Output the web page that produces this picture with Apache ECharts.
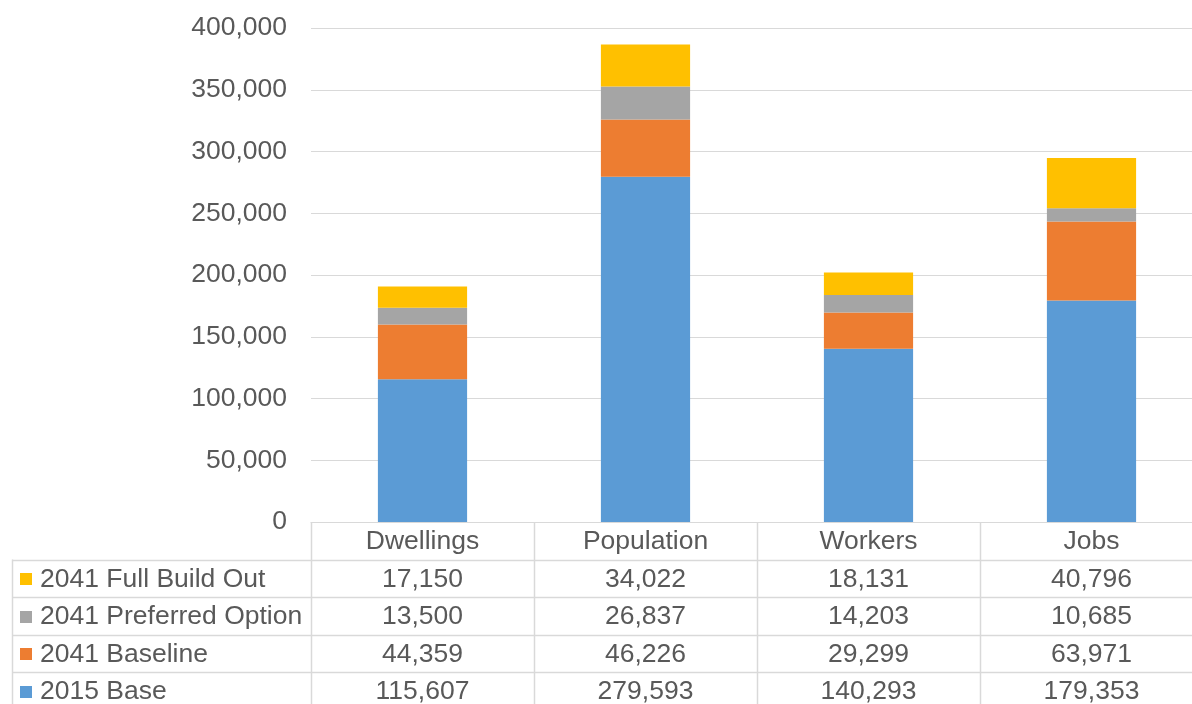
<!DOCTYPE html>
<html>
<head>
<meta charset="utf-8">
<script src="https://cdn.jsdelivr.net/npm/echarts@6/dist/echarts.min.js"></script>
<style>html,body{margin:0;padding:0;background:#fff;overflow:hidden;width:1192px;height:704px}#c{width:1203px;height:704px}</style>
</head>
<body>
<div id="c"></div>
<script>
const categories = ['Dwellings', 'Population', 'Workers', 'Jobs'];
const seriesNames = ['2041 Full Build Out', '2041 Preferred Option', '2041 Baseline', '2015 Base'];
const fullBuildOut = [17150, 34022, 18131, 40796];
const preferredOption = [13500, 26837, 14203, 10685];
const baseline2041 = [44359, 46226, 29299, 63971];
const base2015 = [115607, 279593, 140293, 179353];
const seriesColors = ['#FFC000', '#A5A5A5', '#ED7D31', '#5B9BD5'];

const tableRows = [fullBuildOut, preferredOption, baseline2041, base2015];
const FONT = '"Liberation Sans", Arial, sans-serif';
const TXT = '#595959';
const LINE = '#D9D9D9';
const FS = 26.5;

const chart = echarts.init(document.getElementById('c'), null, {renderer: 'canvas'});

// bottom stack first
const stackOrder = [3, 2, 1, 0];
const series = stackOrder.map(i => ({
  name: seriesNames[i],
  type: 'bar',
  stack: 'total',
  data: tableRows[i],
  barWidth: '40%',
  itemStyle: {color: seriesColors[i]},
  emphasis: {disabled: true}
}));

chart.setOption({
  animation: false,
  textStyle: {fontFamily: FONT},
  grid: {left: 311, top: 28, bottom: 182, right: 0, containLabel: false},
  xAxis: {
    type: 'category',
    data: categories,
    axisLine: {show: true, lineStyle: {color: LINE, width: 1}},
    axisTick: {show: false},
    axisLabel: {show: false}
  },
  yAxis: {
    type: 'value',
    min: 0, max: 400000, interval: 50000,
    axisLine: {show: false},
    axisTick: {show: false},
    splitLine: {lineStyle: {color: LINE, width: 1}},
    axisLabel: {
      color: TXT, fontSize: FS, fontFamily: FONT, margin: 24,
      formatter: v => v.toLocaleString('en-US')
    }
  },
  series: series
});

// Build data table under the axis from the same arrays
const zeroY = chart.convertToPixel({yAxisIndex: 0}, 0);
const centers = categories.map(c => chart.convertToPixel({xAxisIndex: 0}, c));
const colW = centers[1] - centers[0];
const rowH = 37.5;
const leftX = 12;
const rightX = 1203;
const graphics = [];
const lineStyle = {stroke: LINE, lineWidth: 1.5};

// header text
categories.forEach((c, j) => {
  graphics.push({type: 'text', x: centers[j], y: zeroY + rowH / 2 + 1,
    style: {text: c, fill: TXT, font: FS + 'px ' + FONT, textAlign: 'center', textVerticalAlign: 'middle'}});
});
// vertical lines at column boundaries
for (let j = 0; j < categories.length; j++) {
  const x = Math.round(centers[j] - colW / 2) + 0.5;
  graphics.push({type: 'line', shape: {x1: x, y1: zeroY, x2: x, y2: 704}, style: lineStyle});
}
// left border of label column
graphics.push({type: 'line', shape: {x1: leftX + 0.5, y1: zeroY + rowH, x2: leftX + 0.5, y2: 704}, style: lineStyle});
// rows
tableRows.forEach((row, i) => {
  const top = zeroY + rowH * (i + 1);
  const yl = Math.round(top) + 0.5;
  graphics.push({type: 'line', shape: {x1: leftX, y1: yl, x2: rightX, y2: yl}, style: lineStyle});
  const cy = top + rowH / 2 + 1;
  graphics.push({type: 'rect', shape: {x: 20, y: Math.round(cy - 6), width: 12, height: 12}, style: {fill: seriesColors[i]}});
  graphics.push({type: 'text', x: 40, y: cy,
    style: {text: seriesNames[i], fill: TXT, font: FS + 'px ' + FONT, textAlign: 'left', textVerticalAlign: 'middle'}});
  row.forEach((v, j) => {
    graphics.push({type: 'text', x: centers[j], y: cy,
      style: {text: v.toLocaleString('en-US'), fill: TXT, font: FS + 'px ' + FONT, textAlign: 'center', textVerticalAlign: 'middle'}});
  });
});

chart.setOption({graphic: graphics});
</script>
</body>
</html>
